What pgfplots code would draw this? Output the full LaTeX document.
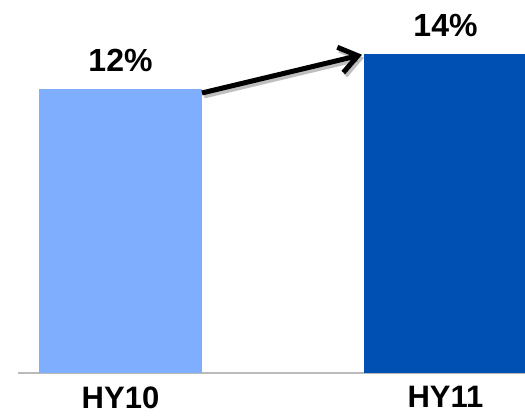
\documentclass[border=0pt]{standalone}
\usepackage{fontspec}
\setmainfont{Liberation Sans}
\usepackage{pgfplots}
\pgfplotsset{compat=1.18}
\usetikzlibrary{arrows.meta}
\definecolor{barA}{RGB}{127,174,255}
\definecolor{barB}{RGB}{0,80,180}
\begin{document}
\begin{tikzpicture}
\useasboundingbox (0,0) rectangle (525pt,416pt);
\begin{axis}[
  at={(18pt,43pt)}, anchor=south west,
  scale only axis, width=507pt, height=373pt,
  xmin=-0.3154, xmax=1.2446, ymin=0, ymax=16.29,
  axis x line=bottom, hide y axis,
  x axis line style={draw=black!27, line width=2pt, -},
  xtick={0,1}, xticklabels={HY10,HY11},
  major tick length=0pt,
  xticklabel style={font=\bfseries\fontsize{31}{36}\selectfont, yshift=-10pt},
  ybar, bar width=163pt, bar shift=0pt,
  nodes near coords, point meta=explicit symbolic,
  every node near coord/.append style={font=\bfseries\fontsize{32}{36}\selectfont, anchor=south, inner sep=0pt, yshift=17pt, text=black},
]
\addplot[fill=barA, draw=none] coordinates {(0,12.4) [12\%]};
\addplot[fill=barB, draw=none] coordinates {(1,13.93) [14\%]};
\draw[black, opacity=0.25, line width=5pt, -{Straight Barb[length=18pt, width=26pt]}] ([xshift=2pt,yshift=-3pt]axis cs:0.2508,12.23) -- ([xshift=2pt,yshift=-3pt]axis cs:0.743,13.9);
\draw[black, line width=5pt, -{Straight Barb[length=18pt, width=26pt]}] (axis cs:0.2508,12.23) -- (axis cs:0.743,13.9);
\end{axis}
\end{tikzpicture}
\end{document}
